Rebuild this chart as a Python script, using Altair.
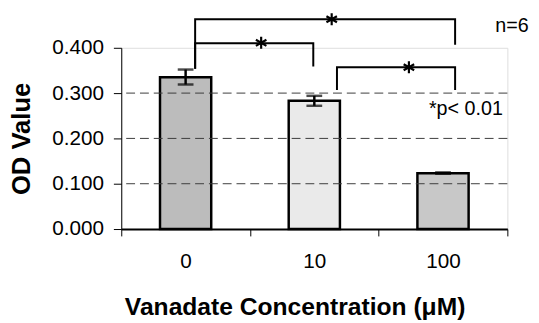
import altair as alt
import pandas as pd

# ---- data ----
categories = ["0", "10", "100"]
means = [0.335, 0.283, 0.123]
err_low = [0.319, 0.272, 0.122]
err_high = [0.352, 0.294, 0.125]
bar_colors = ["#bcbcbc", "#eaeaea", "#c8c8c8"]

y_ticks = [0.0, 0.1, 0.2, 0.3, 0.4]
grid_values = [0.1, 0.2, 0.3]

# significance brackets, x in band units (0..3 across the three categories)
bracket_ids = ["0 vs 100"] * 4 + ["0 vs 10"] * 4 + ["10 vs 100"] * 4
bracket_x = [0.574, 0.574, 2.594, 2.594,
             0.574, 0.574, 1.492, 1.492,
             1.676, 1.676, 2.594, 2.594]
bracket_y = [0.354, 0.463, 0.463, 0.407,
             0.354, 0.410, 0.410, 0.359,
             0.307, 0.357, 0.357, 0.307]
bracket_seq = [0, 1, 2, 3] * 3

star_x = [1.635, 1.087, 2.235]
star_y = [0.463, 0.411, 0.357]

note_text = ["n=6", "*p< 0.01"]
note_x = [3.165, 2.965]
note_y = [0.448, 0.265]

FONT = "Liberation Sans"

bars_df = pd.DataFrame({"cat": categories, "y": means, "color": bar_colors})
err_df = pd.DataFrame({"cat": categories, "y": err_low, "y2": err_high})
grid_df = pd.DataFrame({"y": grid_values})
br_df = pd.DataFrame({"b": bracket_ids, "bx": bracket_x, "y": bracket_y, "seq": bracket_seq})
star_df = pd.DataFrame({"bx": star_x, "y": star_y})
note_df = pd.DataFrame({"bx": note_x, "y": note_y, "t": note_text})

yscale = alt.Scale(domain=[0, 0.4], nice=False, zero=True)
yaxis = alt.Axis(values=y_ticks, format=".3f", grid=False, tickSize=8,
                 tickColor="black", domainColor="black", domainWidth=1,
                 labelFontSize=21, labelFont=FONT, labelColor="black", labelPadding=10,
                 titleFontSize=26, titleFont=FONT, titleFontWeight="bold",
                 titleColor="black", titlePadding=18)
Y = alt.Y("y:Q", scale=yscale, axis=yaxis, title="OD Value")

xscale_band = alt.Scale(domain=categories, paddingInner=0, paddingOuter=0)
xaxis = alt.Axis(labelAngle=0, tickBand="extent", tickSize=7, tickColor="black",
                 domainColor="black", domainWidth=2, tickWidth=1,
                 labelFontSize=21, labelFont=FONT, labelColor="black", labelPadding=15,
                 titleFontSize=25, titleFont=FONT, titleFontWeight="bold",
                 titleColor="black", titlePadding=24, titleX=176)

xq = alt.Scale(domain=[0, 3], nice=False, zero=False)

bars = alt.Chart(bars_df).mark_bar(width=52, stroke="black", strokeWidth=2.5).encode(
    x=alt.X("cat:N", sort=categories, scale=xscale_band, axis=xaxis,
            title="Vanadate Concentration (μM)"),
    y=Y,
    fill=alt.Fill("color:N", scale=None),
)

grid = alt.Chart(grid_df).mark_rule(color="#3c3c3c", strokeWidth=1, strokeDash=[9, 5]).encode(
    y=Y
)

err_rule = alt.Chart(err_df).mark_rule(color="black", strokeWidth=2.5).encode(
    x=alt.X("cat:N", sort=categories, scale=xscale_band, axis=None),
    y=Y,
    y2="y2:Q",
)
err_cap_lo = alt.Chart(err_df).mark_tick(color="black", size=16, thickness=2.5).encode(
    x=alt.X("cat:N", sort=categories, scale=xscale_band, axis=None),
    y=Y,
)
err_cap_hi = alt.Chart(err_df).transform_calculate(yy="datum.y2").mark_tick(
    color="black", size=16, thickness=2.5).encode(
    x=alt.X("cat:N", sort=categories, scale=xscale_band, axis=None),
    y=alt.Y("yy:Q", scale=yscale, axis=yaxis, title="OD Value"),
)

brackets = alt.Chart(br_df).mark_line(color="black", strokeWidth=2, clip=False).encode(
    x=alt.X("bx:Q", scale=xq, axis=None),
    y=Y,
    detail="b:N",
    order="seq:Q",
)

star_shape = "M0,-1L0,1M-0.87,-0.5L0.87,0.5M-0.87,0.5L0.87,-0.5"
stars = alt.Chart(star_df).mark_point(shape=star_shape, size=150, stroke="black",
                                      strokeWidth=2.2, filled=False, opacity=1,
                                      clip=False).encode(
    x=alt.X("bx:Q", scale=xq, axis=None),
    y=Y,
)

notes = alt.Chart(note_df).mark_text(align="right", baseline="middle", fontSize=20,
                                     font=FONT, color="black", clip=False).encode(
    x=alt.X("bx:Q", scale=xq, axis=None),
    y=Y,
    text="t:N",
)

chart = alt.layer(bars, grid, err_rule, err_cap_lo, err_cap_hi, brackets, stars, notes).resolve_scale(
    x="independent"
).properties(
    width=392, height=184,
    autosize=alt.AutoSizeParams(type="none"),
    padding={"left": 115, "top": 38, "right": 24, "bottom": 93},
).configure_view(stroke="black", strokeWidth=1).configure(background="white")

chart.save("out.html", embed_options={"renderer": "svg", "actions": False})
